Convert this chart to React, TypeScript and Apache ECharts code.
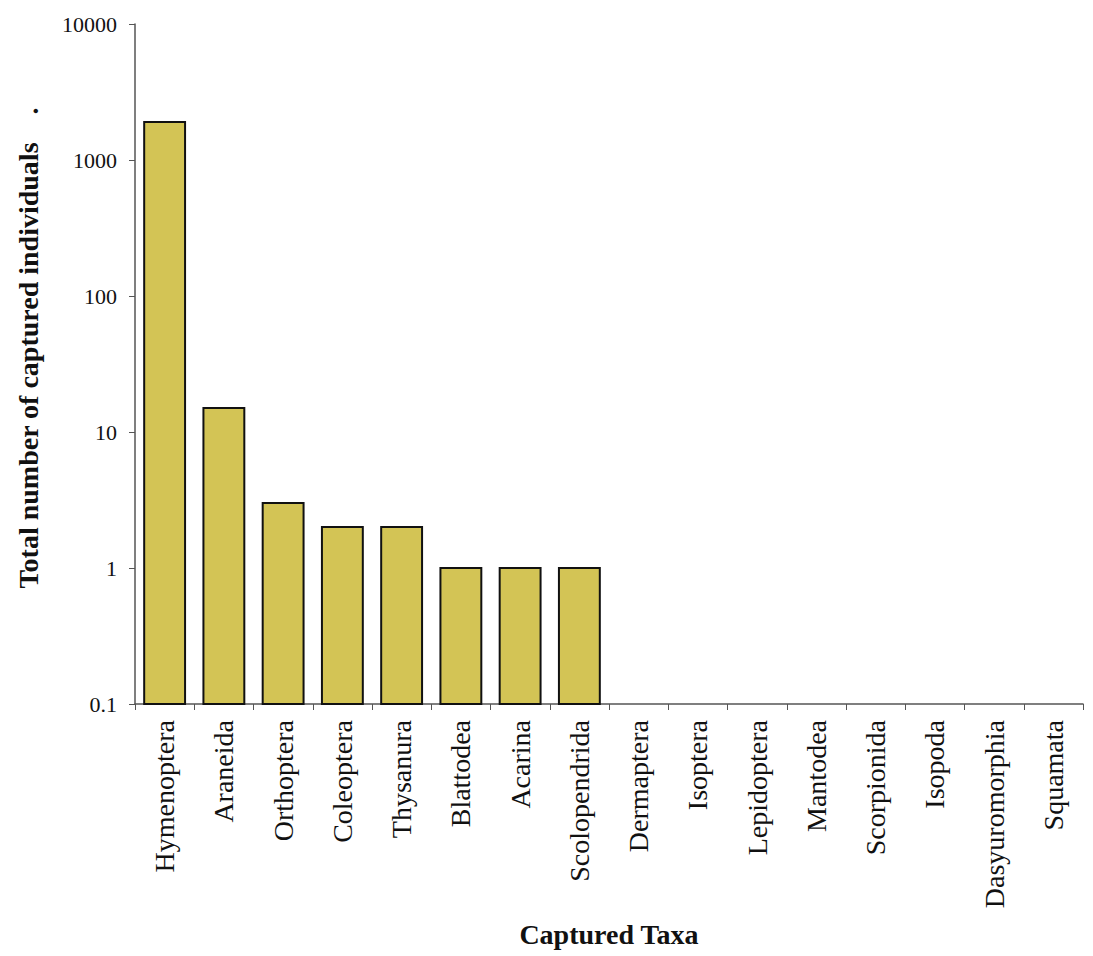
import React, { useEffect, useRef } from "react";
import * as echarts from "echarts";

// Taxa in plotting order and the total number of individuals captured of each
const taxa = [
  "Hymenoptera",
  "Araneida",
  "Orthoptera",
  "Coleoptera",
  "Thysanura",
  "Blattodea",
  "Acarina",
  "Scolopendrida",
  "Dermaptera",
  "Isoptera",
  "Lepidoptera",
  "Mantodea",
  "Scorpionida",
  "Isopoda",
  "Dasyuromorphia",
  "Squamata",
];
const captured = [1900, 15, 3, 2, 2, 1, 1, 1, 0, 0, 0, 0, 0, 0, 0, 0];

// Log axis range
const axisMin = 0.1;
const axisMax = 10000;

const FONT = "'Liberation Serif', 'Times New Roman', serif";
const BAR_FILL = "#d3c455";

export default function App() {
  const ref = useRef<HTMLDivElement>(null);

  useEffect(() => {
    document.body.style.margin = "0";
    if (!ref.current) return;
    const chart = echarts.init(ref.current, undefined, { renderer: "svg" });

    // Zero counts cannot be shown on a log axis, so those taxa get no bar
    const barData = captured
      .map((v, i) => [i, v])
      .filter((d) => d[1] > 0);

    chart.setOption({
      animation: false,
      backgroundColor: "#ffffff",
      grid: {
        left: 135,
        right: 10,
        top: 24,
        bottom: 252,
        containLabel: false,
        outerBoundsMode: "none",
      },
      xAxis: {
        type: "category",
        data: taxa,
        boundaryGap: true,
        name: "Captured Taxa",
        nameLocation: "middle",
        nameGap: 216,
        nameTextStyle: {
          fontFamily: FONT,
          fontWeight: "bold",
          fontSize: 28,
          color: "#111",
        },
        axisLine: { lineStyle: { color: "#555", width: 1.5 } },
        axisTick: { show: true, length: 6, lineStyle: { color: "#555" } },
        axisLabel: {
          rotate: 90,
          interval: 0,
          margin: 16,
          fontFamily: FONT,
          fontSize: 28,
          color: "#111",
        },
        splitLine: { show: false },
      },
      yAxis: {
        type: "log",
        logBase: 10,
        min: axisMin,
        max: axisMax,
        axisLine: { show: true, lineStyle: { color: "#555", width: 1.5 } },
        axisTick: { show: true, length: 6, lineStyle: { color: "#555" } },
        axisLabel: {
          margin: 18,
          fontFamily: FONT,
          fontSize: 22,
          color: "#111",
          formatter: (v: number) =>
            v >= 1 ? String(Math.round(v)) : String(Number(v.toFixed(1))),
        },
        splitLine: { show: false },
      },
      graphic: [
        {
          type: "text",
          x: 28,
          y: 348,
          rotation: Math.PI / 2,
          style: {
            text: "Total number of captured individuals    .",
            fontFamily: FONT,
            fontWeight: "bold",
            fontSize: 28,
            fill: "#111",
            align: "center",
            verticalAlign: "middle",
          },
        },
      ],
      series: [
        {
          type: "custom",
          name: "Captured individuals",
          encode: { x: 0, y: 1 },
          data: barData,
          renderItem: (params: any, api: any) => {
            const idx = api.value(0);
            const val = api.value(1);
            const top = api.coord([idx, val]);
            const base = api.coord([idx, axisMin]);
            const band = api.size([1, 1])[0];
            const bw = band * 0.69;
            return {
              type: "rect",
              shape: {
                x: top[0] - bw / 2,
                y: top[1],
                width: bw,
                height: base[1] - top[1],
              },
              style: { fill: BAR_FILL, stroke: "#111", lineWidth: 2 },
            };
          },
        },
      ],
    });

    return () => chart.dispose();
  }, []);

  return <div ref={ref} style={{ width: 1093, height: 956 }} />;
}
